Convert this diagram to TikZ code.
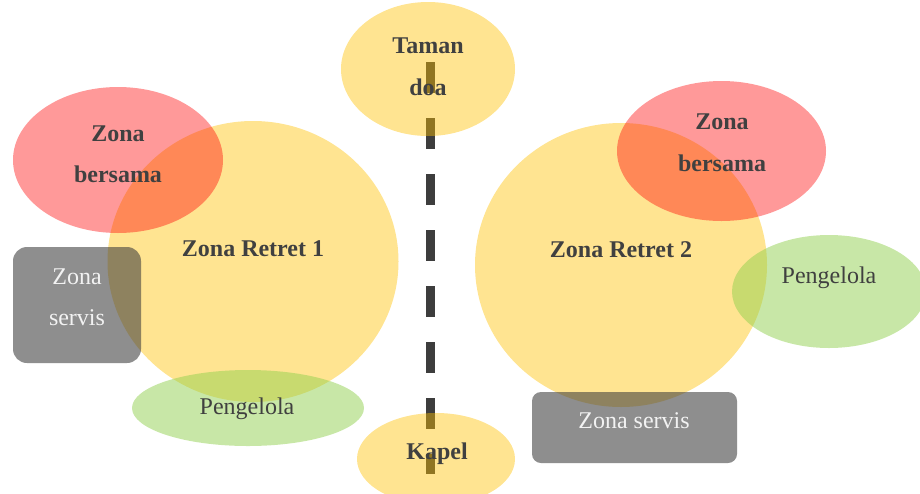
\documentclass[tikz,border=0pt]{standalone}
\usepackage{fontspec}
\setmainfont{Liberation Serif}
\usetikzlibrary{shapes.geometric}

\definecolor{zoneyellow}{HTML}{FFC000}
\definecolor{zonered}{HTML}{FF0000}
\definecolor{zonegreen}{HTML}{92D050}
\definecolor{zonegray}{HTML}{3C3C3C}
\definecolor{labeldark}{HTML}{404040}
\definecolor{axisgray}{HTML}{3D3D3D}

\begin{document}
\begin{tikzpicture}[x=1pt,y=-1pt,
  area/.style={ellipse, inner sep=0pt, draw=none},
  retreat/.style={area, fill=zoneyellow, fill opacity=0.43},
  shared/.style={area, fill=zonered, fill opacity=0.4},
  staff/.style={area, fill=zonegreen, fill opacity=0.5},
  service/.style={rectangle, inner sep=0pt, draw=none, fill=zonegray, fill opacity=0.58},
  axis/.style={draw=axisgray, line width=9pt, dash pattern=on 31pt off 25pt},
  boldlabel/.style={text=labeldark, align=center, inner sep=0pt,
    font=\fontsize{24}{41.5}\selectfont\bfseries},
  plainlabel/.style={text=labeldark, align=center, inner sep=0pt,
    font=\fontsize{24}{41.5}\selectfont},
  servicelabel/.style={plainlabel, text=white!95!black}
]
\useasboundingbox (0,0) rectangle (920,493);

% central axis between the two retreat zones
\coordinate (axisTop) at (430,62);
\coordinate (axisBot) at (430,474);
\draw[axis] (axisTop) -- (axisBot);

% retreat zones
\node[retreat, minimum width=291pt, minimum height=281pt] (retret1) at (253,261.5) {};
\node[retreat, minimum width=292pt, minimum height=284pt] (retret2) at (621,265) {};

% prayer garden and chapel on the axis
\node[retreat, minimum width=174pt, minimum height=134pt] (taman) at (428,69) {};
\node[retreat, minimum width=158pt, minimum height=92pt] (kapel) at (436,459) {};

% shared zones
\node[shared, minimum width=210pt, minimum height=146pt] (bersama1) at (118,160) {};
\node[shared, minimum width=209pt, minimum height=140pt] (bersama2) at (721.5,151) {};

% service zones
\node[service, rounded corners=14pt, minimum width=128pt, minimum height=116pt] (servis1) at (77,305) {};
\node[service, rounded corners=9pt, minimum width=205pt, minimum height=71pt] (servis2) at (634.5,427.5) {};

% management zones
\node[staff, minimum width=232pt, minimum height=76pt] (pengelola1) at (248,408) {};
\node[staff, minimum width=194pt, minimum height=113pt] (pengelola2) at (829,291.5) {};

% labels
\node[boldlabel] (tamanLabel) at (428,67) {Taman\\doa};
\node[boldlabel, anchor=base] (kapelLabel) at (437,459) {Kapel};
\node[boldlabel, anchor=base] (retret1Label) at (253,256) {Zona Retret 1};
\node[boldlabel, anchor=base] (retret2Label) at (621,257) {Zona Retret 2};
\node[boldlabel] (bersama1Label) at (118,154.5) {Zona\\bersama};
\node[boldlabel] (bersama2Label) at (722,143) {Zona\\bersama};
\node[servicelabel] (servis1Label) at (77,297.5) {Zona\\servis};
\node[servicelabel, anchor=base] (servis2Label) at (634,428) {Zona servis};
\node[plainlabel, anchor=base] (pengelola1Label) at (247,414) {Pengelola};
\node[plainlabel, anchor=base] (pengelola2Label) at (829,283) {Pengelola};
\end{tikzpicture}
\end{document}
